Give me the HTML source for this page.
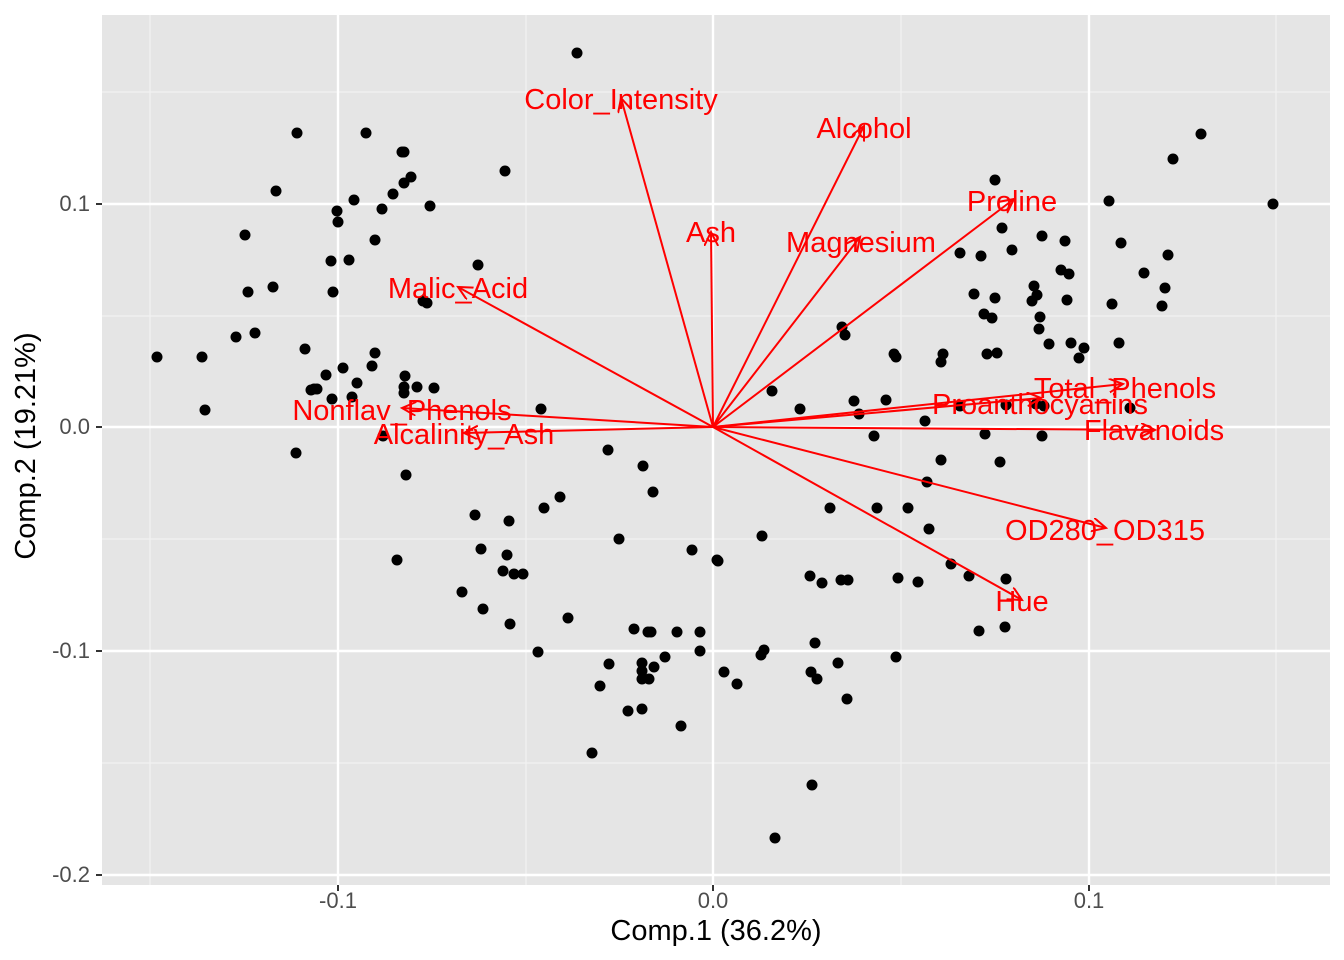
<!DOCTYPE html>
<html><head><meta charset="utf-8"><style>body{margin:0;background:#fff}svg{display:block}</style></head>
<body>
<svg id="s" width="1344" height="960" xmlns="http://www.w3.org/2000/svg" font-family="Liberation Sans, sans-serif">
<defs><marker id="a" markerWidth="20" markerHeight="20" refX="14" refY="7" orient="auto" markerUnits="userSpaceOnUse"><polyline points="0,0 14,7 0,14" fill="none" stroke="#ff0000" stroke-width="2"/></marker></defs>
<rect x="102" y="15" width="1228" height="870" fill="#e5e5e5"/>
<g stroke="#f2f2f2" stroke-width="1.2">
<line x1="150" y1="15" x2="150" y2="885"/><line x1="526" y1="15" x2="526" y2="885"/><line x1="901" y1="15" x2="901" y2="885"/><line x1="1276" y1="15" x2="1276" y2="885"/>
<line x1="102" y1="92" x2="1330" y2="92"/><line x1="102" y1="316" x2="1330" y2="316"/><line x1="102" y1="539" x2="1330" y2="539"/><line x1="102" y1="763" x2="1330" y2="763"/>
</g>
<g stroke="#fff" stroke-width="2.4">
<line x1="338" y1="15" x2="338" y2="885"/><line x1="713" y1="15" x2="713" y2="885"/><line x1="1089" y1="15" x2="1089" y2="885"/>
<line x1="102" y1="204" x2="1330" y2="204"/><line x1="102" y1="427" x2="1330" y2="427"/><line x1="102" y1="651" x2="1330" y2="651"/><line x1="102" y1="875" x2="1330" y2="875"/>
</g>
<g stroke="#333" stroke-width="2">
<line x1="338" y1="885" x2="338" y2="891"/><line x1="713" y1="885" x2="713" y2="891"/><line x1="1089" y1="885" x2="1089" y2="891"/>
<line x1="96" y1="204" x2="102" y2="204"/><line x1="96" y1="427" x2="102" y2="427"/><line x1="96" y1="651" x2="102" y2="651"/><line x1="96" y1="875" x2="102" y2="875"/>
</g>
<g fill="#4d4d4d" font-size="22">
<text x="338" y="908" text-anchor="middle">-0.1</text><text x="713" y="908" text-anchor="middle">0.0</text><text x="1089" y="908" text-anchor="middle">0.1</text>
<text x="90" y="211" text-anchor="end">0.1</text><text x="90" y="434" text-anchor="end">0.0</text><text x="90" y="658" text-anchor="end">-0.1</text><text x="90" y="882" text-anchor="end">-0.2</text>
</g>
<text x="716" y="940" text-anchor="middle" font-size="29">Comp.1 (36.2%)</text>
<text transform="translate(35,446) rotate(-90)" text-anchor="middle" font-size="29">Comp.2 (19.21%)</text>
<g fill="#000" id="pts"></g>
<g stroke="#ff0000" stroke-width="2" marker-end="url(#a)">
<line x1="713" y1="427" x2="621" y2="98"/><line x1="713" y1="427" x2="864" y2="126"/><line x1="713" y1="427" x2="711" y2="232"/>
<line x1="713" y1="427" x2="860" y2="237"/><line x1="713" y1="427" x2="1014" y2="199"/><line x1="713" y1="427" x2="458" y2="287"/>
<line x1="713" y1="427" x2="402" y2="408"/><line x1="713" y1="427" x2="464" y2="433"/><line x1="713" y1="427" x2="1123" y2="384"/>
<line x1="713" y1="427" x2="1041" y2="398"/><line x1="713" y1="427" x2="1155" y2="430"/><line x1="713" y1="427" x2="1106" y2="528"/>
<line x1="713" y1="427" x2="1022" y2="600"/>
</g>
<g fill="#ff0000" font-size="29" text-anchor="middle">
<text x="621" y="109">Color_Intensity</text><text x="864" y="138">Alcohol</text><text x="711" y="242">Ash</text>
<text x="861" y="252">Magnesium</text><text x="1012" y="211">Proline</text><text x="458" y="298">Malic_Acid</text>
<text x="402" y="420">Nonflav_Phenols</text><text x="464" y="444">Alcalinity_Ash</text><text x="1125" y="398">Total_Phenols</text>
<text x="1040" y="414">Proanthocyanins</text><text x="1154" y="440">Flavanoids</text><text x="1105" y="540">OD280_OD315</text>
<text x="1022" y="611">Hue</text>
</g>
</svg>
<script>
var p=[577,53,1201,134,1173,159,1273,204,1109,201,1121,243,1168,255,1144,273,1165,288,1162,306,1112,304,1119,343,1084,348,1079,358,1130,408,
995,180,1002,228,1042,236,1065,241,1012,250,960,253,981,256,1061,270,1069,274,974,294,995,298,1034,286,1037,295,1032,301,1067,300,984,314,992,318,1040,317,1039,329,1049,344,1071,343,987,354,997,353,943,354,941,362,894,354,896,357,842,327,845,335,772,391,800,409,854,401,859,414,886,400,874,436,925,421,960,406,1006,405,1036,404,1044,406,985,434,1042,436,1000,462,941,460,927,482,877,508,908,508,929,529,830,508,762,536,718,561,810,576,822,583,841,580,848,580,898,578,918,582,951,564,969,576,1006,579,1005,627,979,631,896,657,815,643,838,663,811,672,817,679,847,699,812,785,775,838,
764,650,761,655,724,672,737,684,700,651,700,632,677,632,648,632,651,632,634,629,642,663,642,671,642,679,649,679,665,657,654,667,609,664,600,686,628,711,642,709,681,726,592,753,692,550,717,560,619,539,568,618,538,652,510,624,483,609,462,592,503,571,514,574,523,574,507,555,481,549,475,515,509,521,544,508,560,497,608,450,643,466,653,492,541,409,
505,171,478,265,402,152,404,152,411,177,404,183,393,194,382,209,430,206,366,133,354,200,337,211,338,222,297,133,276,191,245,235,248,292,273,287,331,261,349,260,333,292,375,240,423,301,427,303,236,337,255,333,157,357,202,357,205,410,305,349,314,389,311,390,317,389,326,375,343,368,357,383,352,397,332,399,375,353,372,366,405,376,404,387,404,393,417,387,434,388,383,436,406,475,397,560,296,453];
var g=document.getElementById('pts');
for(var i=0;i<p.length;i+=2){var c=document.createElementNS('http://www.w3.org/2000/svg','circle');c.setAttribute('cx',p[i]);c.setAttribute('cy',p[i+1]);c.setAttribute('r','5.5');g.appendChild(c);}
</script>
</body></html>
